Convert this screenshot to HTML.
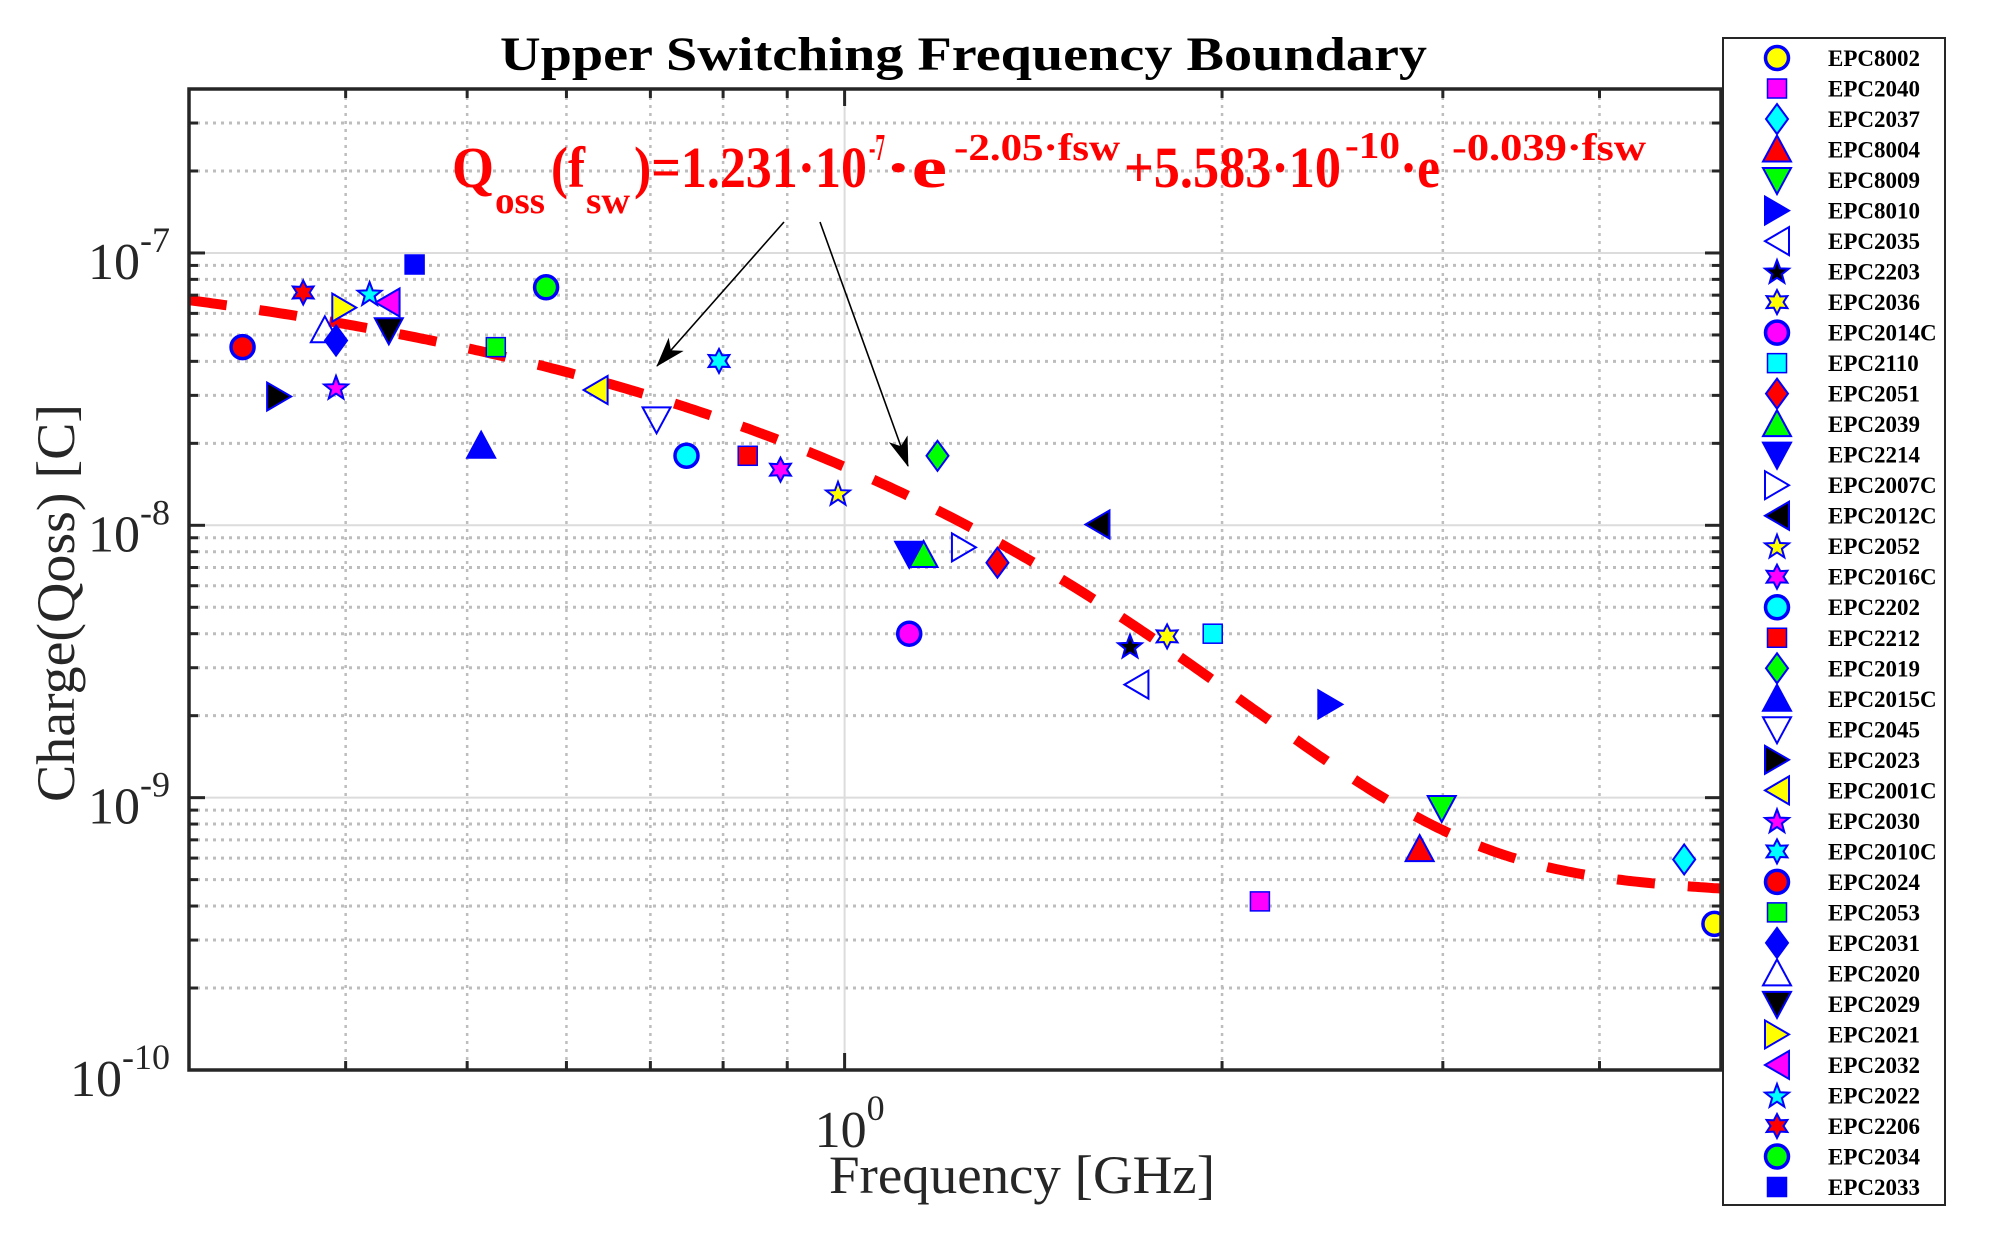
<!DOCTYPE html>
<html><head><meta charset="utf-8"><style>
html,body{margin:0;padding:0;background:#fff;}
svg{display:block;}
text{font-family:"Liberation Serif",serif;}
</style></head>
<body>
<svg id="chart" width="1989" height="1244" viewBox="0 0 1989 1244" xmlns="http://www.w3.org/2000/svg">
<rect x="0" y="0" width="1989" height="1244" fill="#fff"/>
<defs><clipPath id="plotclip"><rect x="189" y="89" width="1532" height="981"/></clipPath>
<marker id="ah" viewBox="0 0 30 20" refX="29" refY="10" markerWidth="30" markerHeight="20" markerUnits="userSpaceOnUse" orient="auto"><path d="M0,0 L30,10 L0,20 L8,10 Z" fill="#000"/></marker></defs>
<g id="grid"></g>
<g id="curve" clip-path="url(#plotclip)"></g>
<g id="marks"></g>
<g id="axes"></g>
<text x="500" y="70" font-size="48" font-weight="bold" textLength="927" lengthAdjust="spacingAndGlyphs">Upper Switching Frequency Boundary</text>
<text transform="translate(74,802) rotate(-90)" font-size="54" fill="#262626" textLength="398" lengthAdjust="spacingAndGlyphs">Charge(Qoss) [C]</text>
<text x="829" y="1193" font-size="54" fill="#262626" textLength="386" lengthAdjust="spacingAndGlyphs">Frequency [GHz]</text>
<g fill="#ff0000" font-weight="bold">
<text x="452" y="187" font-size="58" textLength="42" lengthAdjust="spacingAndGlyphs">Q</text>
<text x="495" y="213" font-size="38" textLength="50" lengthAdjust="spacingAndGlyphs">oss</text>
<text x="551" y="187" font-size="58" textLength="34" lengthAdjust="spacingAndGlyphs">(f</text>
<text x="586" y="213" font-size="38" textLength="44" lengthAdjust="spacingAndGlyphs">sw</text>
<text x="634" y="187" font-size="58" textLength="233" lengthAdjust="spacingAndGlyphs">)=1.231·10</text>
<text x="869" y="160" font-size="38" textLength="16" lengthAdjust="spacingAndGlyphs">-7</text>
<text x="885" y="187" font-size="58" textLength="62" lengthAdjust="spacingAndGlyphs">·e</text>
<text x="954" y="160" font-size="38" textLength="166" lengthAdjust="spacingAndGlyphs">-2.05·fsw</text>
<text x="1124" y="187" font-size="58" textLength="217" lengthAdjust="spacingAndGlyphs">+5.583·10</text>
<text x="1345" y="158" font-size="38" textLength="55" lengthAdjust="spacingAndGlyphs">-10</text>
<text x="1400" y="187" font-size="58" textLength="40" lengthAdjust="spacingAndGlyphs">·e</text>
<text x="1452" y="160" font-size="38" textLength="194" lengthAdjust="spacingAndGlyphs">-0.039·fsw</text>
</g>
<line x1="784" y1="222" x2="657" y2="366" stroke="#000" stroke-width="1.6" marker-end="url(#ah)"/>
<line x1="820" y1="222" x2="908" y2="466" stroke="#000" stroke-width="1.6" marker-end="url(#ah)"/>
<g id="legend"></g>
</svg>
<script>
const names=["EPC8002","EPC2040","EPC2037","EPC8004","EPC8009","EPC8010","EPC2035","EPC2203","EPC2036","EPC2014C","EPC2110","EPC2051","EPC2039","EPC2214","EPC2007C","EPC2012C","EPC2052","EPC2016C","EPC2202","EPC2212","EPC2019","EPC2015C","EPC2045","EPC2023","EPC2001C","EPC2030","EPC2010C","EPC2024","EPC2053","EPC2031","EPC2020","EPC2029","EPC2021","EPC2032","EPC2022","EPC2206","EPC2034","EPC2033"];
const shapes=["o","s","d","^","v",">","<","p","h","o","s","d","^","v",">","<","p","h","o","s","d","^","v",">","<","p","h","o","s","d","^","v",">","<","p","h","o","s"];
const fills=["#ffff00","#ff00ff","#00ffff","#ff0000","#00ff00","#0000ff","none","#000000","#ffff00","#ff00ff","#00ffff","#ff0000","#00ff00","#0000ff","none","#000000","#ffff00","#ff00ff","#00ffff","#ff0000","#00ff00","#0000ff","none","#000000","#ffff00","#ff00ff","#00ffff","#ff0000","#00ff00","#0000ff","none","#000000","#ffff00","#ff00ff","#00ffff","#ff0000","#00ff00","#0000ff"];
const freqGHz=[4.94,2.144,4.673,2.875,2.994,2.44,1.709,1.689,1.808,1.126,1.966,1.324,1.156,1.126,1.245,1.591,0.988,0.889,0.748,0.837,1.186,0.513,0.708,0.354,0.633,0.393,0.794,0.331,0.527,0.393,0.385,0.433,0.399,0.432,0.418,0.37,0.578,0.454];
const chargeC=[3.44e-10,4.16e-10,5.93e-10,6.47e-10,9.16e-10,2.2e-9,2.6e-9,3.6e-9,3.91e-9,4.0e-9,4.0e-9,7.29e-9,7.78e-9,7.86e-9,8.3e-9,1.007e-8,1.31e-8,1.6e-8,1.8e-8,1.8e-8,1.8e-8,1.96e-8,2.45e-8,2.97e-8,3.14e-8,3.21e-8,4.01e-8,4.51e-8,4.51e-8,4.77e-8,5.2e-8,5.2e-8,6.3e-8,6.58e-8,7.09e-8,7.16e-8,7.48e-8,9.07e-8];
const fitA=[1.231e-7,-2.05];
const fitB=[5.583e-10,-0.039];
const xTicksMinor=[0.4,0.5,0.6,0.7,0.8,0.9,2,3,4];
const xTicksMajor=[1];
const yTicksMajor=[1e-10,1e-9,1e-8,1e-7];
const yExpLabels=["-10","-9","-8","-7"];

const NS="http://www.w3.org/2000/svg";
const L=189,R=1721,T=89,B=1070;
const X_MIN=0.3,X_MAX=5,Y_MIN=1e-10,Y_MAX=4e-7;
function xs(v){return L+(Math.log10(v)-Math.log10(X_MIN))/(Math.log10(X_MAX)-Math.log10(X_MIN))*(R-L);}
function ys(v){return B-(Math.log10(v)-Math.log10(Y_MIN))/(Math.log10(Y_MAX)-Math.log10(Y_MIN))*(B-T);}
function el(tag,attrs,parent){const e=document.createElementNS(NS,tag);for(const k in attrs)e.setAttribute(k,attrs[k]);parent.appendChild(e);return e;}

const grid=document.getElementById('grid');
const axes=document.getElementById('axes');
const yMinor=[];
for(let d=-10;d<=-7;d++){for(let m=2;m<=9;m++){const v=m*Math.pow(10,d);if(v<Y_MAX)yMinor.push(v);}}
yMinor.forEach(v=>{
  const y=ys(v);
  const g=el('line',{x1:L,x2:R,y1:y,y2:y,stroke:'#bdbdbd','stroke-width':3,'stroke-dasharray':'3 5'},grid);
  
  
  const t1=el('line',{x1:L,x2:L+9,y1:y,y2:y,stroke:'#262626','stroke-width':3},axes);
  
  
  const t2=el('line',{x1:R-9,x2:R,y1:y,y2:y,stroke:'#262626','stroke-width':3},axes);
  
  
});
xTicksMinor.forEach(v=>{
  const x=xs(v);
  const g=el('line',{x1:x,x2:x,y1:T,y2:B,stroke:'#bdbdbd','stroke-width':2.5,'stroke-dasharray':'3 5'},grid);
  
  
  const t1=el('line',{x1:x,x2:x,y1:B-9,y2:B,stroke:'#262626','stroke-width':3},axes);
  
  
  const t2=el('line',{x1:x,x2:x,y1:T,y2:T+9,stroke:'#262626','stroke-width':3},axes);
  
  
});
yTicksMajor.forEach((v,i)=>{
  const y=ys(v);
  if(i>0){
    const g=el('line',{x1:L,x2:R,y1:y,y2:y,stroke:'#dcdcdc','stroke-width':2},grid);
    
    
  }
  const t1=el('line',{x1:L,x2:L+16,y1:y,y2:y,stroke:'#262626','stroke-width':3},axes);
  
  
  const t2=el('line',{x1:R-16,x2:R,y1:y,y2:y,stroke:'#262626','stroke-width':3},axes);
  
  
  const tx=el('text',{x:170,y:y+26,'font-size':52,fill:'#262626','text-anchor':'end'},axes);
  
  
  tx.appendChild(document.createTextNode('10'));
  const sp=el('tspan',{'font-size':36,dy:-27},tx);
  sp.textContent=yExpLabels[i];
});
xTicksMajor.forEach(v=>{
  const x=xs(v);
  const g=el('line',{x1:x,x2:x,y1:T,y2:B,stroke:'#dcdcdc','stroke-width':2},grid);
  
  
  const t1=el('line',{x1:x,x2:x,y1:B-17,y2:B,stroke:'#262626','stroke-width':3},axes);
  
  
  const t2=el('line',{x1:x,x2:x,y1:T,y2:T+17,stroke:'#262626','stroke-width':3},axes);
  
  
  const tx=el('text',{x:x-30,y:1147,'font-size':52,fill:'#262626'},axes);
  
  
  tx.appendChild(document.createTextNode('10'));
  const sp=el('tspan',{'font-size':36,dy:-27},tx);
  sp.textContent='0';
});
const frame=el('rect',{x:L,y:T,width:R-L,height:B-T,fill:'none',stroke:'#262626','stroke-width':3.5},axes);



const curve=document.getElementById('curve');
let pts=[];
for(let i=0;i<=400;i++){
  const f=X_MIN*Math.pow(X_MAX/X_MIN,i/400);
  const q=fitA[0]*Math.exp(fitA[1]*f)+fitB[0]*Math.exp(fitB[1]*f);
  pts.push(xs(f).toFixed(1)+','+ys(q).toFixed(1));
}
const pl=el('polyline',{points:pts.join(' '),fill:'none',stroke:'#ff0000','stroke-width':10,'stroke-dasharray':'38 33'},curve);



function starPts(cx,cy,n,ro,ri){
  let p=[];
  for(let k=0;k<2*n;k++){const r=k%2?ri:ro;const a=-Math.PI/2+k*Math.PI/n;p.push((cx+r*Math.cos(a)).toFixed(1)+','+(cy+r*Math.sin(a)).toFixed(1));}
  return p.join(' ');
}
function drawMarker(parent,shape,cx,cy,fill){
  const st={fill:fill,stroke:'#0000ff','stroke-width':2};
  let e;
  if(shape==='o'){e=el('circle',Object.assign({cx:cx,cy:cy,r:11.5},st,{'stroke-width':3.5}),parent);}
  else if(shape==='s'){e=el('rect',Object.assign({x:cx-9.5,y:cy-9.5,width:19,height:19},st,{'stroke-width':1.5}),parent);}
  else {
    let p;
    if(shape==='d')p=[[0,-15],[11,0],[0,15],[-11,0]];
    else if(shape==='^')p=[[0,-14],[14,12],[-14,12]];
    else if(shape==='v')p=[[-14,-12],[14,-12],[0,14]];
    else if(shape==='>')p=[[-12,-14],[12,0],[-12,14]];
    else if(shape==='<')p=[[12,-14],[-12,0],[12,14]];
    if(p){e=el('polygon',Object.assign({points:p.map(q=>(cx+q[0])+','+(cy+q[1])).join(' ')},st),parent);}
    else if(shape==='p'){e=el('polygon',Object.assign({points:starPts(cx,cy+1,5,12.5,5.2)},st),parent);}
    else if(shape==='h'){e=el('polygon',Object.assign({points:starPts(cx,cy,6,12,6.5)},st),parent);}
  }
  return e;
}
const marks=document.getElementById('marks');
names.forEach((n,i)=>{
  const m=drawMarker(marks,shapes[i],xs(freqGHz[i]),ys(chargeC[i]),fills[i]);
  
  
});
const leg=document.getElementById('legend');
const box=el('rect',{x:1723,y:38,width:222,height:1167,fill:'#fff',stroke:'#262626','stroke-width':2},leg);


const step=(1187-58)/37;
names.forEach((n,i)=>{
  const y=58+i*step;
  const g=el('g',{},leg);
  
  
  const m=drawMarker(g,shapes[i],1777,y,fills[i]);
  
  
  const t=el('text',{x:1828,y:y+8,'font-size':23,'font-weight':'bold',fill:'#000'},g);
  
  
  t.textContent=n;
});
</script>
</body></html>
